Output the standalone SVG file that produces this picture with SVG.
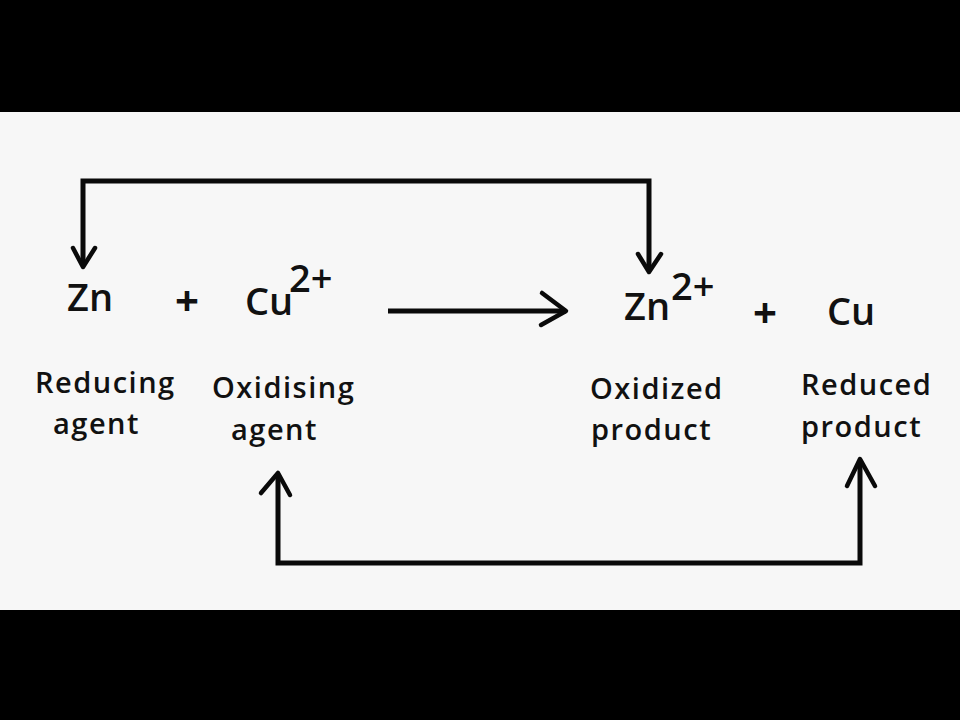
<svg xmlns="http://www.w3.org/2000/svg" width="960" height="720" viewBox="0 0 960 720">
<style>
.t{font-family:"Open Sans","Liberation Sans",sans-serif;font-weight:600;fill:#111}
.big{font-size:38px}
.pl{font-size:42px;font-weight:700}
.lab{font-size:29px;letter-spacing:1.5px}
.ln{fill:none;stroke:#0a0a0a;stroke-width:5;stroke-linejoin:miter}
.ah{fill:none;stroke:#0a0a0a;stroke-width:4.5;stroke-linecap:round;stroke-linejoin:round}
</style>
<rect x="0" y="0" width="960" height="720" fill="#000"/>
<rect x="0" y="112" width="960" height="498" fill="#f7f7f7"/>
<g id="connectors">
  <polyline class="ln" points="83,265 83,181 649,181 649,270"/>
  <polyline class="ah" points="73,248 83,267 95,248"/>
  <polyline class="ah" points="638,254 649,272 661,254"/>
  <line class="ln" x1="388" y1="311" x2="566" y2="311"/>
  <polyline class="ah" points="542,293 566,311 541,325"/>
  <polyline class="ln" points="278,475 278,563 860,563 860,460"/>
  <polyline class="ah" points="261,493 278,473 290,495"/>
  <polyline class="ah" points="847,486 860,459 875,486"/>
</g>
<g id="zn">
  <text class="t big" x="67" y="311">Zn</text>
  <text class="t lab" x="35" y="393">Reducing</text>
  <text class="t lab" x="53" y="434">agent</text>
</g>
<g id="plus1"><text class="t pl" x="175" y="316">+</text></g>
<g id="cu2">
  <text class="t big" x="245" y="315">Cu</text>
  <text class="t big" x="289" y="292">2+</text>
  <text class="t lab" x="212" y="398">Oxidising</text>
  <text class="t lab" x="231" y="440">agent</text>
</g>
<g id="zn2">
  <text class="t big" x="624" y="320">Zn</text>
  <text class="t big" x="671" y="300">2+</text>
  <text class="t lab" x="590" y="399">Oxidized</text>
  <text class="t lab" x="591" y="440">product</text>
</g>
<g id="plus2"><text class="t pl" x="753" y="328">+</text></g>
<g id="cu">
  <text class="t big" x="827" y="325">Cu</text>
  <text class="t lab" x="801" y="395">Reduced</text>
  <text class="t lab" x="801" y="437">product</text>
</g>
</svg>
